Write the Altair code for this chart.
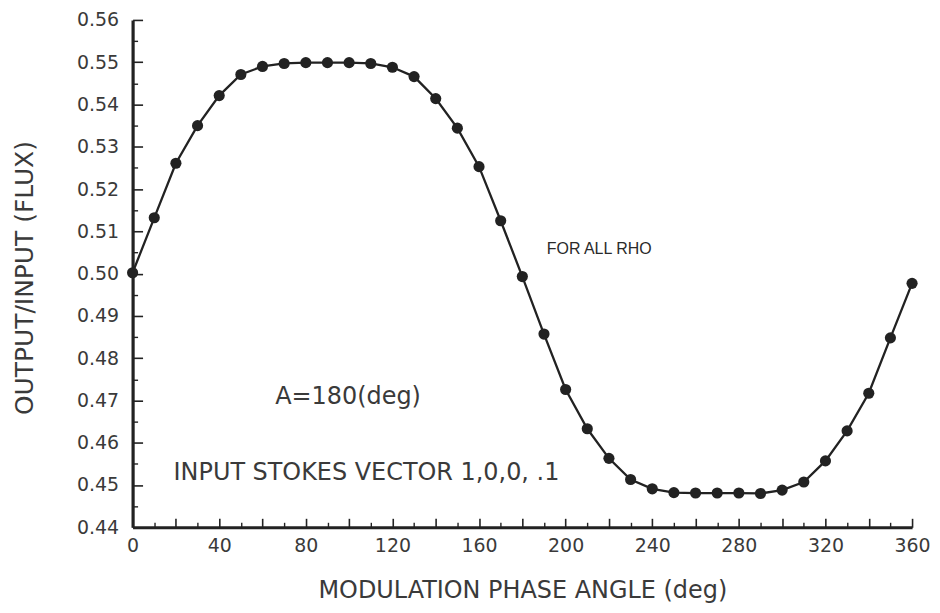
import altair as alt
import pandas as pd

# ---- data ----
angle = [0, 10, 20, 30, 40, 50, 60, 70, 80, 90, 100, 110, 120, 130, 140, 150, 160, 170, 180,
         190, 200, 210, 220, 230, 240, 250, 260, 270, 280, 290, 300, 310, 320, 330, 340, 350, 360]
flux = [0.5002, 0.5132, 0.5261, 0.5350, 0.5421, 0.5471, 0.5490, 0.5497, 0.5499, 0.5499, 0.5499,
        0.5497, 0.5488, 0.5466, 0.5414, 0.5344, 0.5253, 0.5125, 0.4993,
        0.4857, 0.4726, 0.4633, 0.4563, 0.4513, 0.4491, 0.4482, 0.4481, 0.4481, 0.4481, 0.4480,
        0.4488, 0.4507, 0.4557, 0.4628, 0.4717, 0.4848, 0.4977]

x_label_values = [0, 40, 80, 120, 160, 200, 240, 280, 320, 360]
x_major_ticks = [0, 20, 40, 60, 80, 100, 120, 140, 160, 180, 200, 220, 240, 260, 280, 300, 320, 340, 360]
x_minor_ticks = [10, 30, 50, 70, 90, 110, 130, 150, 170, 190, 210, 230, 250, 270, 290, 310, 330, 350]
y_label_values = [0.44, 0.45, 0.46, 0.47, 0.48, 0.49, 0.50, 0.51, 0.52, 0.53, 0.54, 0.55, 0.56]
y_minor_ticks = [0.445, 0.455, 0.465, 0.475, 0.485, 0.495, 0.505, 0.515, 0.525, 0.535, 0.545, 0.555]

note_text = ["A=180(deg)", "INPUT STOKES VECTOR 1,0,0, .1"]
note_x = [99.5, 108.0]
note_y = [0.4707, 0.4529]

rho_text = ["FOR ALL RHO"]
rho_x = [215.5]
rho_y = [0.5059]

df = pd.DataFrame({"angle": angle, "flux": flux})
notes = pd.DataFrame({"x": note_x, "y": note_y, "t": note_text})
rho = pd.DataFrame({"x": rho_x, "y": rho_y, "t": rho_text})

W, H = 782, 509
AX = "#222222"
TXT = "#3a3a3a"
FONT = "DejaVu Sans"

xs = alt.Scale(domain=[0, 360], nice=False)
ys = alt.Scale(domain=[0.44, 0.56], nice=False, zero=False)

line = alt.Chart(df).mark_line(color=AX, strokeWidth=2.3).encode(
    x=alt.X("angle:Q", scale=xs, axis=alt.Axis(
        values=x_label_values, ticks=False, tickSize=0, domain=True, domainWidth=3.2,
        domainColor=AX, grid=False, labelFont=FONT, labelFontSize=19, labelColor=TXT,
        labelPadding=9, labelFlush=False, labelOverlap=False,
        title="MODULATION PHASE ANGLE (deg)", titleFont=FONT, titleFontSize=24,
        titleFontWeight="normal", titleColor=TXT, titleX=W / 2, titleY=63,
        titleBaseline="middle", titleAlign="center")),
    y=alt.Y("flux:Q", scale=ys, axis=alt.Axis(
        values=y_label_values, format=".2f", ticks=False, tickSize=0, domain=True,
        domainWidth=3.2, domainColor=AX, grid=False, labelFont=FONT, labelFontSize=19,
        labelColor=TXT, labelPadding=14, labelFlush=False, labelOverlap=False,
        title="OUTPUT/INPUT (FLUX)", titleFont=FONT, titleFontSize=25,
        titleFontWeight="normal", titleColor=TXT, titleX=-108, titleY=H / 2 + 4,
        titleAngle=-90, titleBaseline="middle", titleAlign="center")),
)

points = alt.Chart(df).mark_circle(size=125, color=AX, opacity=1).encode(
    x=alt.X("angle:Q", scale=xs, axis=alt.Axis(
        orient="top", offset=-H, values=x_major_ticks, ticks=True, tickSize=9,
        tickWidth=1.6, tickColor=AX, labels=False, domain=False, grid=False, title=None)),
    y=alt.Y("flux:Q", scale=ys, axis=alt.Axis(
        orient="right", offset=-W, values=y_label_values, ticks=True, tickSize=10,
        tickWidth=1.6, tickColor=AX, labels=False, domain=False, grid=False, title=None)),
)

minor = alt.Chart(df).mark_circle(size=10, opacity=0).encode(
    x=alt.X("angle:Q", scale=xs, axis=alt.Axis(
        orient="top", offset=-H, values=x_minor_ticks, ticks=True, tickSize=5,
        tickWidth=1.4, tickColor=AX, labels=False, domain=False, grid=False, title=None)),
    y=alt.Y("flux:Q", scale=ys, axis=alt.Axis(
        orient="right", offset=-W, values=y_minor_ticks, ticks=True, tickSize=5,
        tickWidth=1.4, tickColor=AX, labels=False, domain=False, grid=False, title=None)),
)

note_layer = alt.Chart(notes).mark_text(
    font=FONT, fontSize=24, color=TXT, align="center", baseline="middle").encode(
    x=alt.X("x:Q", scale=xs, axis=None),
    y=alt.Y("y:Q", scale=ys, axis=None),
    text="t:N",
)

rho_layer = alt.Chart(rho).mark_text(
    font="Liberation Sans", fontSize=16, color="#2a2a2a", align="center",
    baseline="middle").encode(
    x=alt.X("x:Q", scale=xs, axis=None),
    y=alt.Y("y:Q", scale=ys, axis=None),
    text="t:N",
)

chart = alt.layer(line, points, minor, note_layer, rho_layer).resolve_axis(
    x="independent", y="independent"
).properties(
    width=W, height=H,
    autosize=alt.AutoSizeParams(type="none"),
    padding={"left": 125, "top": 11, "right": 20, "bottom": 76},
    background="white",
).configure_view(stroke=None)

chart.save("out.html", embed_options={"renderer": "svg", "actions": False})
